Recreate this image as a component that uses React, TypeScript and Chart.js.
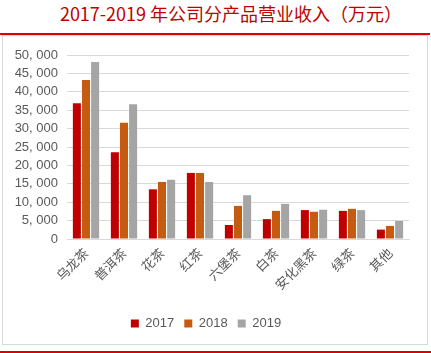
import React, { useEffect, useRef } from "react";
import { Chart, registerables } from "chart.js";
Chart.register(...registerables);

const title = "2017-2019 年公司分产品营业收入（万元）";
const categories = ["乌龙茶", "普洱茶", "花茶", "红茶", "六堡茶", "白茶", "安化黑茶", "绿茶", "其他"];
const years = ["2017", "2018", "2019"];
const s2017 = [36900, 23600, 13500, 17950, 3800, 5400, 7850, 7650, 2550];
const s2018 = [43200, 31600, 15500, 17950, 9000, 7650, 7400, 8200, 3550];
const s2019 = [48100, 36600, 16100, 15500, 11900, 9550, 7950, 7850, 4900];
const colors = ["#C00000", "#C55A11", "#A5A5A5"];
const yMax = 50000;
const yStep = 5000;

function fmt(v: number): string {
  if (v === 0) return "0";
  const s = String(v);
  return s.slice(0, s.length - 3) + ", " + s.slice(s.length - 3);
}

export default function App() {
  const ref = useRef<HTMLCanvasElement | null>(null);
  useEffect(() => {
    document.body.style.margin = "0";
    const ctx = ref.current!.getContext("2d")!;
    const chart = new Chart(ctx, {
      type: "bar",
      data: {
        labels: categories,
        datasets: [s2017, s2018, s2019].map((d, i) => ({
          label: years[i],
          data: d,
          backgroundColor: colors[i],
          borderWidth: 0,
          categoryPercentage: 0.72,
          barPercentage: 0.88,
        })),
      },
      options: {
        animation: false,
        responsive: false,
        maintainAspectRatio: false,
        layout: { padding: { top: 19, right: 18, bottom: 4, left: 0 } },
        plugins: {
          legend: {
            position: "bottom",
            labels: {
              boxWidth: 8,
              boxHeight: 8,
              padding: 10,
              color: "#595959",
              font: { family: "Liberation Sans", size: 13 },
            },
          },
          tooltip: { enabled: false },
          title: { display: false },
        },
        scales: {
          x: {
            grid: { display: false, drawTicks: false },
            border: { display: true, color: "#d9d9d9", width: 1 },
            ticks: {
              minRotation: 45,
              maxRotation: 45,
              autoSkip: false,
              padding: 6,
              color: "#595959",
              font: { family: "Noto Sans CJK SC", size: 13 },
            },
            afterFit: (s: any) => {
              s.height = 68;
            },
          },
          y: {
            min: 0,
            max: yMax,
            grid: { color: "#d9d9d9", lineWidth: 1, drawTicks: false },
            border: { display: false },
            ticks: {
              stepSize: yStep,
              autoSkip: false,
              padding: 9,
              color: "#595959",
              font: { family: "Liberation Sans", size: 13 },
              callback: (v: any) => fmt(Number(v)),
            },
            afterFit: (s: any) => {
              s.width = 64;
            },
          },
        },
      },
    });
    return () => chart.destroy();
  }, []);

  return (
    <div style={{ position: "relative", width: 431, height: 353, background: "#fff", overflow: "hidden" }}>
      <div
        style={{
          position: "absolute",
          left: 31,
          top: 0,
          width: 400,
          height: 26,
          lineHeight: "26px",
          textAlign: "center",
          color: "#C00000",
          fontFamily: "'Noto Sans CJK SC', sans-serif",
          fontSize: 18,
          whiteSpace: "nowrap",
        }}
      >
        {title}
      </div>
      <div style={{ position: "absolute", left: 0, top: 33, width: 430, height: 2, background: "#E00000" }} />
      <div
        style={{
          position: "absolute",
          left: 2,
          top: 35,
          width: 424,
          height: 308,
          border: "1px solid #d9d9d9",
        }}
      />
      <canvas
        ref={ref}
        width={424}
        height={308}
        style={{ position: "absolute", left: 3, top: 36, width: 424, height: 308 }}
      />
      <div style={{ position: "absolute", left: 0, top: 351, width: 431, height: 2, background: "#E00000" }} />
    </div>
  );
}
